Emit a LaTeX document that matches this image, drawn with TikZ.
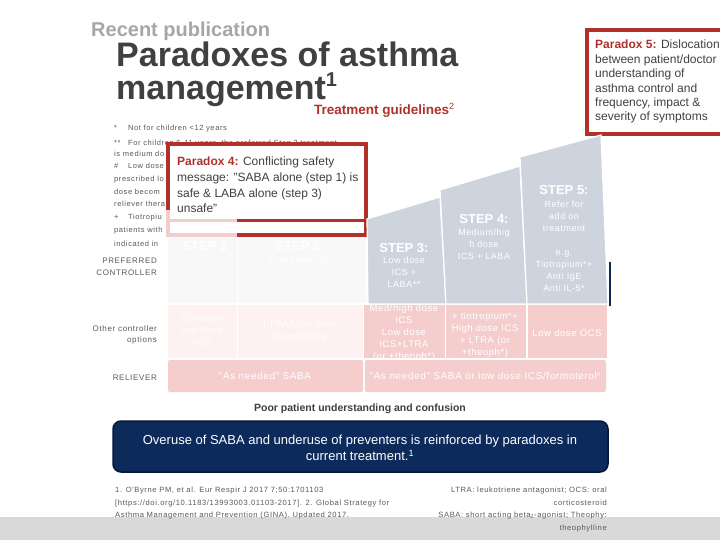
\documentclass[tikz,border=0pt]{standalone}
\usepackage{fontspec}
\setmainfont{Liberation Sans}
\newfontfamily\spacedfont[LetterSpace=8]{Liberation Sans}
\newfontfamily\stepfont[LetterSpace=6]{Liberation Sans}
\definecolor{titlegray}{RGB}{64,64,64}
\definecolor{recentgray}{RGB}{166,166,166}
\definecolor{txtgray}{RGB}{89,89,89}
\definecolor{txtdark}{RGB}{64,64,64}
\definecolor{parared}{RGB}{178,48,42}
\definecolor{fadered}{RGB}{242,205,203}
\definecolor{stepblue}{RGB}{205,212,222}
\definecolor{pinkc}{RGB}{245,205,205}
\definecolor{fadepink}{RGB}{253,241,241}
\definecolor{fadegray}{RGB}{248,248,249}
\definecolor{navyc}{RGB}{12,42,90}
\definecolor{navyd}{RGB}{4,24,56}
\definecolor{bandgray}{RGB}{217,217,217}
\begin{document}
\begin{tikzpicture}[x=1pt,y=-1pt,
  lbl/.style={font=\spacedfont\fontsize{8}{10}\selectfont, text=txtgray, inner sep=0, anchor=base east},
  fnote/.style={font=\spacedfont\fontsize{7.5}{9}\selectfont, text=txtgray, inner sep=0, anchor=base west},
  refnote/.style={font=\spacedfont\fontsize{7.6}{12.5}\selectfont, text=txtgray, inner sep=0},
  stephead/.style={font=\bfseries\fontsize{13}{15}\selectfont, text=white, inner sep=0, anchor=base},
  stepbody/.style={font=\stepfont\fontsize{9}{12}\selectfont, text=white, inner sep=0, align=center, anchor=north},
  cellbody/.style={font=\stepfont\fontsize{9.5}{12}\selectfont, text=white, inner sep=0, align=center},
  stepshape/.style={fill=stepblue, draw=white, line width=1.2},
  parabox/.style={draw=parared, line width=3.5}
]
\useasboundingbox (0,0) rectangle (720,540);
\fill[white] (0,0) rectangle (720,540);
% bottom band
\fill[bandgray] (0,517) rectangle (720,540);

% headings
\node[anchor=base west, inner sep=0, font=\bfseries\fontsize{20}{24}\selectfont, text=recentgray] (recent) at (91,37) {Recent publication};
\node[anchor=base west, inner sep=0, font=\bfseries\fontsize{34}{40}\selectfont, text=titlegray] (title1) at (116,67) {Paradoxes of asthma};
\node[anchor=base west, inner sep=0, font=\bfseries\fontsize{34}{40}\selectfont, text=titlegray] (title2) at (116,100) {management\raisebox{13pt}{\fontsize{20}{20}\selectfont 1}};
\node[anchor=base west, inner sep=0, font=\bfseries\fontsize{13.5}{16}\selectfont, text=parared] (guide) at (314,115) {Treatment guidelines\raisebox{5pt}{\fontsize{9}{9}\selectfont\mdseries 2}};

% Paradox 5 box
\draw[parabox] (587,30) rectangle (726,134);
\node[anchor=north west, inner sep=0, align=left, font=\fontsize{12}{14.4}\selectfont, text=txtdark] (p5) at (595,40) {\textcolor{parared}{\bfseries Paradox 5:} Dislocation\\between patient/doctor\\understanding of\\asthma control and\\frequency, impact \&\\severity of symptoms};

% footnotes
\node[fnote] (f1a) at (114,131) {*};
\node[fnote] (f1) at (128,131) {Not for children <12 years};
\node[fnote] (f2a) at (114,146) {**};
\node[fnote] (f2) at (128,146) {For children 6-11 years, the preferred Step 3 treatment};
\node[fnote] (f3) at (114,157) {is medium do};
\node[fnote] (f4a) at (114,169) {\#};
\node[fnote] (f4) at (128,169) {Low dose};
\node[fnote] (f5) at (114,182) {prescribed lo};
\node[fnote] (f6) at (114,195) {dose becom};
\node[fnote] (f7) at (114,207) {reliever thera};
\node[fnote] (f8a) at (114,220) {+};
\node[fnote] (f8) at (128,220) {Tiotropiu};
\node[fnote] (f9) at (114,233) {patients with};
\node[fnote] (f10) at (114,246) {indicated in};

% faded steps 1 and 2
\fill[fadegray] (168,236) rectangle (236.5,303);
\fill[fadegray] (238,236) rectangle (366,303);
\node[stephead] (s1) at (205,251) {STEP 1};
\node[stephead] (s2) at (300,250) {STEP 2:};
\node[stepbody] (s2b) at (300,257) {Low dose ICS};

% Paradox 4 box
\fill[white] (168,144) rectangle (366,235);
\draw[parabox] (168,210) -- (168,144) -- (366,144) -- (366,235) -- (237,235);
\draw[parared, line width=3] (237,221) -- (366,221);
\draw[fadered, line width=3.5] (168,210) -- (168,235) -- (237,235);
\draw[fadered, line width=3] (168,221) -- (237,221);
\node[anchor=north west, inner sep=0, align=left, font=\fontsize{12}{15.6}\selectfont, text=txtdark] (p4) at (177,157) {\textcolor{parared}{\bfseries Paradox 4:} Conflicting safety\\message: "SABA alone (step 1) is\\safe \& LABA alone (step 3)\\unsafe"};

% steps 3-5
\draw[stepshape] (367,219) -- (440,197) -- (446,304) -- (368,304) -- cycle;
\draw[stepshape] (440,190) -- (520,166) -- (527,304) -- (446,304) -- cycle;
\draw[stepshape] (520,157) -- (601,135) -- (608,304) -- (527,304) -- cycle;
\draw[navyc, line width=2.5] (610,262) -- (610,306);

\node[stephead] (s3) at (404,252) {STEP 3:};
\node[stepbody] (s3b) at (404,257) {Low dose\\ICS +\\LABA**};
\node[stephead] (s4) at (484,223) {STEP 4:};
\node[stepbody] (s4b) at (484,229) {Medium/hig\\h dose\\ICS + LABA};
\node[stephead] (s5) at (564,195) {STEP 5:};
\node[stepbody] (s5b) at (564,201) {Refer for\\add on\\treatment\\[12pt]e.g.\\Tiotropium*+\\Anti IgE\\Anti IL-5*};

% other controller row
\fill[fadepink] (168,305) rectangle (236.5,358);
\fill[fadepink] (238,305) rectangle (363,358);
\fill[pinkc] (364,305) rectangle (444.5,358);
\fill[pinkc] (446,305) rectangle (526,358);
\fill[pinkc] (527.5,305) rectangle (607,358);
\node[cellbody, anchor=north] (c1) at (202,314) {Consider\\low dose\\ICS};
\node[cellbody, anchor=north] (c2) at (300,320) {LTRA/Low dose\\theophylline*};
\node[cellbody, anchor=north] (c3) at (404,304) {Med/high dose\\ICS\\Low dose\\ICS+LTRA\\(or +theoph*)};
\node[cellbody, anchor=north] (c4) at (485,312) {+ tiotropium*+\\High dose ICS\\+ LTRA (or\\+theoph*)};
\node[cellbody] (c5) at (567,333) {Low dose OCS};

% reliever row
\fill[pinkc, rounded corners=2] (168,360) rectangle (363,392);
\fill[pinkc, rounded corners=2] (365,360) rectangle (606,392);
\node[cellbody, font=\stepfont\fontsize{10}{12}\selectfont] (r1) at (265,376) {"As needed" SABA};
\node[cellbody, font=\stepfont\fontsize{10}{12}\selectfont] (r2) at (485,376) {"As needed" SABA or low dose ICS/formoterol\raisebox{3pt}{\fontsize{6}{6}\selectfont\#}};

% row labels
\node[lbl] (l1) at (157,263) {PREFERRED};
\node[lbl] (l2) at (157,275) {CONTROLLER};
\node[lbl] (l3) at (157,331) {Other controller};
\node[lbl] (l4) at (157,342) {options};
\node[lbl] (l5) at (157,380) {RELIEVER};

% bottom message
\node[anchor=base, inner sep=0, font=\bfseries\fontsize{10.5}{12}\selectfont, text=txtdark] (poor) at (360,411) {Poor patient understanding and confusion};
\draw[fill=navyc, draw=navyd, line width=1.5, rounded corners=8] (113,421) rectangle (608,472);
\node[align=center, inner sep=0, font=\fontsize{13}{16.5}\selectfont, text=white] (msg) at (360,448) {Overuse of SABA and underuse of preventers is reinforced by paradoxes in\\current treatment.\textsuperscript{1}};

% references
\node[refnote, anchor=north west, align=left] (ref1) at (115,487) {1. O'Byrne PM, et al. Eur Respir J 2017 7;50:1701103\\{}[https://doi.org/10.1183/13993003.01103-2017]. 2. Global Strategy for\\Asthma Management and Prevention (GINA). Updated 2017.};
\node[refnote, anchor=north east, align=right] (ref2) at (607,487) {LTRA: leukotriene antagonist; OCS: oral\\corticosteroid\\SABA: short acting beta\textsubscript{2}-agonist; Theophy:\\theophylline};
\end{tikzpicture}
\end{document}
